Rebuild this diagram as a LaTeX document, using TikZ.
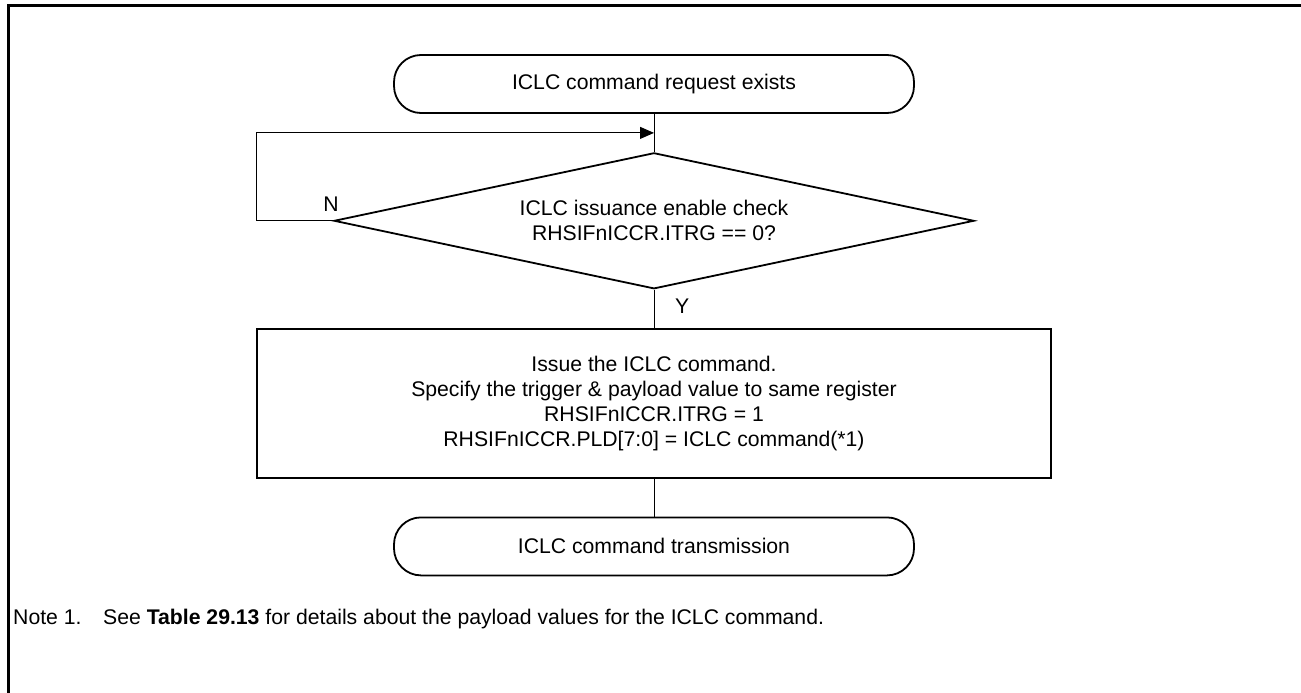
\documentclass[tikz,border=0pt]{standalone}
\usepackage{fontspec}
\setmainfont{Liberation Sans}
\usetikzlibrary{shapes.geometric, arrows.meta, positioning, calc}

\begin{document}
\begin{tikzpicture}[
    x=1pt, y=1pt,
    node distance=38pt,
    base/.style={font=\fontsize{21.2}{25}\selectfont, align=center},
    terminal/.style={base, rectangle, draw, line width=1.8pt, rounded corners=27pt, minimum width=520pt, minimum height=58pt},
    decision/.style={base, diamond, draw, line width=1.8pt, aspect=4.7, inner sep=0pt, minimum width=640pt, minimum height=136pt},
    process/.style={base, rectangle, draw, line width=1.8pt, minimum width=794pt, minimum height=149pt},
    flag/.style={base, inner sep=0pt},
    conn/.style={line width=1pt},
    arrow/.style={line width=1pt, -{Triangle[length=14pt, width=12pt]}},
    frame/.style={line width=3pt}
]
    \useasboundingbox (0,0) rectangle (1301,-693);
    \draw[frame] (8,-693) -- (8,-6) -- (1301,-6);

    \node[terminal] (start) at (654,-84) {ICLC command request exists};
    \node[decision, below=of start] (check) {ICLC issuance enable check\\RHSIFnICCR.ITRG == 0?};
    \node[process, below=of check] (issue) {Issue the ICLC command.\\Specify the trigger \& payload value to same register\\RHSIFnICCR.ITRG = 1\\RHSIFnICCR.PLD[7:0] = ICLC command(*1)};
    \node[terminal, below=of issue] (done) {ICLC command transmission};

    \coordinate (merge) at ($(start.south)!0.5!(check.north)$);
    \draw[conn] (start) -- (check);
    \draw[arrow] (check.west) -- ++(-77,0) |- (merge);
    \draw[conn] (check) -- (issue);
    \draw[conn] (issue) -- (done);

    \node[flag, above=9pt of check.west, xshift=-2pt] (no) {N};
    \node[flag, below right=9pt and 21pt of check.south] (yes) {Y};

    \node[flag, anchor=base west] (note) at (13,-624) {Note 1.};
    \node[flag, anchor=base west] (notetext) at (103,-624) {See \textbf{Table 29.13} for details about the payload values for the ICLC command.};
\end{tikzpicture}
\end{document}
